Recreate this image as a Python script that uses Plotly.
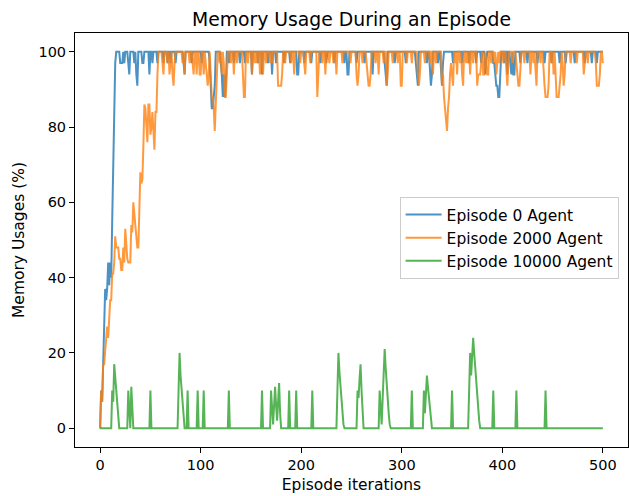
import plotly.graph_objects as go

iterations = list(range(501))

episode_0 = [
    0,10,7,20,30,37,34,37,44,38,44,40,55,70,85,97,100,100,100,100,
    97,97,97,100,97,100,100,100,97,94,100,100,100,100,97,100,94,91,100,100,
    100,100,97,97,100,100,100,100,100,94,100,100,97,100,100,100,100,97,100,100,
    100,100,100,97,100,100,100,97,100,100,97,100,100,100,100,97,100,100,100,100,
    100,100,100,97,94,100,100,100,100,100,100,97,100,100,100,100,100,100,100,100,
    100,97,100,100,100,100,100,100,100,97,91,85,85,88,91,100,100,100,100,100,
    97,94,88,94,88,91,100,100,97,100,100,100,100,97,100,100,100,100,100,97,
    100,100,100,100,97,100,100,100,100,100,100,94,100,100,100,100,100,97,100,100,
    100,94,100,100,100,100,100,97,100,100,100,94,100,100,100,97,100,100,100,100,
    100,100,100,97,100,100,100,100,100,97,100,100,100,100,100,100,94,94,100,100,
    100,100,100,97,100,100,100,100,100,100,97,100,100,100,100,100,100,100,100,97,
    100,100,100,100,100,97,100,100,100,100,100,100,100,97,100,100,100,100,100,100,
    100,100,100,97,100,100,94,94,100,100,100,100,100,100,100,97,100,100,100,100,
    100,100,100,97,100,100,100,100,100,100,100,94,100,100,100,100,100,100,100,100,
    100,100,100,97,94,91,100,100,100,100,100,100,100,97,100,100,100,100,100,100,
    100,100,100,100,97,100,100,100,100,100,100,100,100,100,97,94,91,100,100,100,
    100,100,100,100,100,97,100,100,94,91,94,100,100,100,100,100,97,100,100,94,
    91,97,100,100,100,100,100,100,100,100,100,97,100,100,100,100,100,100,100,100,
    97,100,100,100,100,100,100,97,100,100,100,100,100,100,97,100,100,100,100,97,
    100,100,100,94,97,100,100,100,100,100,100,97,97,94,91,91,88,88,94,100,
    100,100,97,100,100,94,100,100,97,94,100,94,94,100,100,100,100,100,97,100,
    100,100,100,100,100,97,100,100,100,100,100,100,100,100,100,97,100,100,100,100,
    100,100,97,100,100,100,100,100,100,97,100,100,100,100,100,100,100,97,100,100,
    100,100,100,97,100,100,100,100,100,100,100,100,97,100,100,100,100,100,100,100,
    100,100,97,100,100,100,100,100,100,97,100,100,100,100,97,100,100,100,100,100,
    100,
]

episode_2000 = [
    0,10,7,17,17,20,24,27,24,30,34,34,41,41,44,51,48,48,48,45,
    45,42,42,48,44,53,48,45,44,44,44,54,52,60,57,52,49,48,48,60,
    68,65,66,75,86,85,80,76,86,86,78,80,84,80,74,84,84,94,100,100,
    100,100,97,94,100,100,100,97,100,94,97,100,94,91,97,100,100,100,100,100,
    100,100,97,100,94,100,100,100,100,97,100,100,97,94,100,100,94,100,100,94,
    94,100,100,94,100,97,94,91,94,100,94,88,88,85,79,88,94,100,100,97,
    100,94,100,97,88,88,94,100,100,100,97,100,100,94,100,100,97,100,100,100,
    100,100,94,88,88,100,100,97,100,100,100,94,100,100,97,100,97,100,100,94,
    100,100,94,100,100,97,100,100,100,97,100,97,100,100,100,100,100,91,91,91,
    91,94,100,100,97,100,100,100,100,100,97,100,100,94,100,100,100,100,100,97,
    100,100,100,97,94,100,100,100,100,97,100,100,100,100,100,100,88,94,100,100,
    100,97,100,100,94,100,100,100,97,100,100,100,97,100,100,94,100,100,100,100,
    100,97,100,100,100,100,100,100,100,97,100,100,100,100,100,94,91,94,100,100,
    100,97,100,100,100,97,94,91,91,94,100,100,100,100,97,100,100,94,100,100,
    100,100,97,100,100,91,94,100,100,100,100,97,100,100,100,100,97,100,100,91,
    91,100,100,100,100,97,100,100,100,100,97,100,100,100,100,100,94,91,94,100,
    100,100,100,97,100,100,100,100,97,100,100,94,100,100,97,100,100,100,100,100,
    91,94,88,85,84,79,85,88,94,97,94,91,100,97,100,94,100,100,97,100,
    94,91,100,100,97,100,97,100,94,100,100,97,100,100,100,91,94,94,94,97,
    100,94,94,100,97,94,94,100,100,97,100,100,97,100,94,97,100,97,100,100,
    100,97,100,100,94,91,97,100,100,100,97,100,100,100,97,94,91,91,97,100,
    100,100,97,100,100,100,100,100,94,100,100,97,100,94,91,100,100,100,97,100,
    100,94,91,88,88,88,91,100,100,97,100,94,100,91,88,88,88,91,94,100,
    97,91,94,100,100,100,100,100,97,100,100,100,100,100,97,100,100,100,100,100,
    100,94,97,100,100,97,100,100,100,100,100,100,100,97,91,91,91,94,100,100,
    97,
]

episode_10000 = [
    0,0,0,0,0,0,0,0,0,0,0,0,10,7,17,14,10,7,3,0,
    0,0,0,0,0,0,0,0,10,4,0,11,5,0,0,0,0,0,0,0,
    0,0,0,0,0,0,0,0,0,0,10,0,0,0,0,0,0,0,0,0,
    0,0,0,0,0,0,0,0,0,0,0,0,0,0,0,0,0,0,10,20,
    14,10,6,3,0,0,0,10,0,0,0,0,0,0,0,0,0,10,0,0,
    0,0,0,10,0,0,0,0,0,0,0,0,0,0,0,0,0,0,0,0,
    0,0,0,0,0,0,0,0,10,0,0,0,0,0,0,0,0,0,0,0,
    0,0,0,0,0,0,0,0,0,0,0,0,0,0,0,0,0,0,0,0,
    0,10,0,0,0,0,0,0,0,0,10,5,1,6,11,6,2,7,12,4,
    0,0,0,0,0,0,0,0,10,0,0,0,0,0,0,10,0,0,0,0,
    0,0,0,0,0,0,0,0,0,0,0,10,0,0,0,0,0,0,0,0,
    0,0,0,0,0,0,0,0,0,0,0,0,0,0,0,0,10,20,15,11,
    7,4,1,0,0,0,0,0,0,0,0,0,0,0,0,0,10,8,13,17,
    10,4,0,0,0,0,0,0,0,0,0,0,0,0,0,0,0,0,10,5,
    1,8,14,21,16,11,7,4,1,0,0,0,0,0,0,0,0,0,0,0,
    0,0,0,0,0,0,0,0,0,0,10,0,0,0,0,0,0,0,0,0,
    0,0,10,4,9,14,11,8,5,2,0,0,0,0,0,0,0,0,0,0,
    0,0,0,0,0,0,0,0,0,0,10,0,0,0,0,0,0,0,0,0,
    0,0,0,0,0,0,0,10,20,14,19,24,20,16,12,8,5,2,0,0,
    0,0,0,0,0,0,0,0,0,0,0,10,0,0,0,0,0,0,0,0,
    0,0,0,0,0,0,0,0,0,0,0,0,0,0,10,0,0,0,0,0,
    0,0,0,0,0,0,0,0,0,0,0,0,0,0,0,0,0,0,0,0,
    0,0,0,10,0,0,0,0,0,0,0,0,0,0,0,0,0,0,0,0,
    0,0,0,0,0,0,0,0,0,0,0,0,0,0,0,0,0,0,0,0,
    0,0,0,0,0,0,0,0,0,0,0,0,0,0,0,0,0,0,0,0,
    0,
]

series_names = ["Episode 0 Agent", "Episode 2000 Agent", "Episode 10000 Agent"]
series_values = [episode_0, episode_2000, episode_10000]
series_colors = ["rgba(31,119,180,0.8)", "rgba(255,127,14,0.8)", "rgba(44,160,44,0.8)"]

x_ticks = [0, 100, 200, 300, 400, 500]
y_ticks = [0, 20, 40, 60, 80, 100]

FONT = "DejaVu Sans, sans-serif"
LBL = 15.5
TICK = 14.5

fig = go.Figure()
for name, vals, col in zip(series_names, series_values, series_colors):
    fig.add_trace(go.Scatter(x=iterations, y=vals, mode="lines", name=name,
                             line=dict(color=col, width=2)))

axis_common = dict(showline=True, linecolor="black", linewidth=1, mirror=True,
                   ticks="outside", ticklen=5, tickwidth=1, tickcolor="black",
                   showgrid=False, zeroline=False, automargin=False,
                   tickfont=dict(family=FONT, size=TICK, color="black"))

fig.update_layout(
    width=629, height=496,
    margin=dict(l=75, r=1, t=33, b=49, autoexpand=False),
    paper_bgcolor="white", plot_bgcolor="white",
    title=dict(text="Memory Usage During an Episode", x=(75 + 628) / 2 / 629, xanchor="center",
               yref="container", y=1 - 19 / 496, yanchor="middle", automargin=False,
               font=dict(family=FONT, size=18.8, color="black")),
    xaxis=dict(range=[-25, 525], tickvals=x_ticks,
               title=dict(text="Episode iterations", font=dict(family=FONT, size=LBL, color="black"), standoff=6),
               **axis_common),
    yaxis=dict(range=[-5, 105], tickvals=y_ticks,
               title=dict(text="Memory Usages (%)", font=dict(family=FONT, size=LBL, color="black"), standoff=9),
               **axis_common),
    legend=dict(x=0.983, xanchor="right", y=0.505, yanchor="middle",
                bgcolor="rgba(255,255,255,0.8)", bordercolor="#cccccc", borderwidth=1,
                font=dict(family=FONT, size=LBL, color="black"),
                tracegroupgap=2, itemwidth=36),
    showlegend=True,
)

fig.write_html("out.html", config={"displayModeBar": False},
               post_script="document.body.style.margin='0px';document.body.style.padding='0px';")
